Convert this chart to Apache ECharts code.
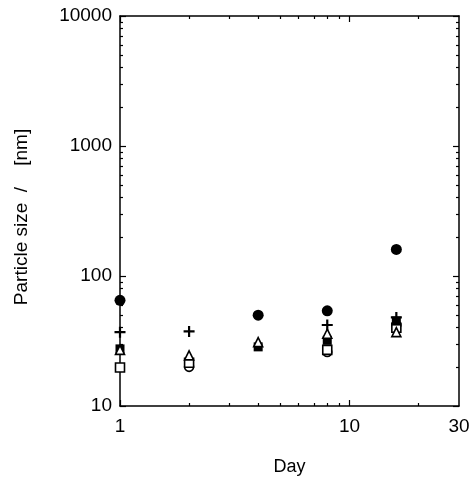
<!DOCTYPE html>
<html>
<head>
<meta charset="utf-8">
<script src="https://cdn.jsdelivr.net/npm/echarts@6/dist/echarts.min.js"></script>
<style>html,body{margin:0;padding:0;background:#fff}#c{width:472px;height:483px}</style>
</head>
<body>
<div id="c"></div>
<script>
// ---- data ----
var filledCircle = [[1, 65], [4, 50], [8, 54], [16, 160]];
var plusMarks = [[1, 37], [2, 37.5], [8, 42], [16, 48]];
var openTriangle = [[1, 27], [2, 24.5], [4, 31], [8, 36], [16, 37]];
var filledSquare = [[1, 27.5], [4, 28.5], [8, 32], [16, 45]];
var openSquare = [[1, 19.8], [2, 21.5], [8, 27], [16, 40]];
var openCircle = [[2, 20], [8, 26], [16, 42]];

var xMajorLabels = [1, 10, 30];
var xMajorTicks = [1, 10];
var xMinorTicks = [2, 3, 4, 5, 6, 7, 8, 9, 20];
var yMajor = [10, 100, 1000, 10000];
var yMinor = [20, 30, 40, 50, 60, 70, 80, 90, 200, 300, 400, 500, 600, 700, 800, 900, 2000, 3000, 4000, 5000, 6000, 7000, 8000, 9000];

var FONT = 'Liberation Sans, Arial, sans-serif';
var lineStyle = { color: '#000', width: 1.5 };
function plain(v) { return String(Math.round(v)); }

function xAx(pos, showLine, ticks, len, labels) {
  return {
    type: 'log', logBase: 10, min: 1, max: 30, position: pos,
    axisLine: { show: showLine, onZero: false, lineStyle: lineStyle },
    axisTick: { show: true, inside: true, length: len, customValues: ticks, lineStyle: { color: '#000', width: 1.2 } },
    axisLabel: labels ? { show: true, customValues: labels, formatter: plain, color: '#000', fontSize: 19, fontFamily: FONT, margin: 11 } : { show: false },
    splitLine: { show: false }, minorTick: { show: false }
  };
}
function yAx(pos, showLine, ticks, len, labels) {
  return {
    type: 'log', logBase: 10, min: 10, max: 10000, position: pos,
    axisLine: { show: showLine, onZero: false, lineStyle: lineStyle },
    axisTick: { show: true, inside: true, length: len, customValues: ticks, lineStyle: { color: '#000', width: 1.2 } },
    axisLabel: labels ? { show: true, customValues: labels, formatter: plain, color: '#000', fontSize: 19, fontFamily: FONT, margin: 8 } : { show: false },
    splitLine: { show: false }, minorTick: { show: false }
  };
}

var xAxes = [
  xAx('bottom', true, xMajorTicks, 6, xMajorLabels),
  xAx('bottom', false, xMinorTicks, 3, null),
  xAx('top', true, xMajorTicks, 6, null),
  xAx('top', false, xMinorTicks, 3, null)
];
xAxes[0].name = 'Day';
xAxes[0].nameLocation = 'middle';
xAxes[0].nameGap = 52;
xAxes[0].nameTextStyle = { color: '#000', fontSize: 18, fontFamily: FONT };

var yAxes = [
  yAx('left', true, yMajor, 6, yMajor),
  yAx('left', false, yMinor, 3, null),
  yAx('right', true, yMajor, 6, null),
  yAx('right', false, yMinor, 3, null)
];

var plusPath = 'path://M4,0h2v4h4v2h-4v4h-2v-4h-4v-2h4z';

function sc(data, symbol, size, fill, border) {
  return {
    type: 'scatter', xAxisIndex: 0, yAxisIndex: 0, data: data,
    symbol: symbol, symbolSize: size,
    itemStyle: { color: fill, borderColor: '#000', borderWidth: border, opacity: 1 },
    emphasis: { disabled: true }, animation: false
  };
}

var chart = echarts.init(document.getElementById('c'), null, { renderer: 'canvas' });
chart.setOption({
  animation: false,
  backgroundColor: '#fff',
  grid: { left: 120, right: 13, top: 16, bottom: 77, containLabel: false, outerBoundsMode: 'none' },
  xAxis: xAxes,
  yAxis: yAxes,
  graphic: [{
    type: 'text', x: 22, y: 217, rotation: Math.PI / 2,
    style: { text: 'Particle size  /    [nm]', fill: '#000', font: '19px ' + FONT, textAlign: 'center', textVerticalAlign: 'middle' }
  }],
  series: [
    sc(openCircle, 'circle', 9, '#fff', 1.6),
    sc(openSquare, 'rect', 9, '#fff', 1.6),
    sc(filledSquare, 'rect', 9, '#000', 0),
    sc(openTriangle, 'triangle', 9, '#fff', 1.6),
    sc(plusMarks, plusPath, 11, '#000', 0),
    sc(filledCircle, 'circle', 11, '#000', 0)
  ]
});
</script>
</body>
</html>
